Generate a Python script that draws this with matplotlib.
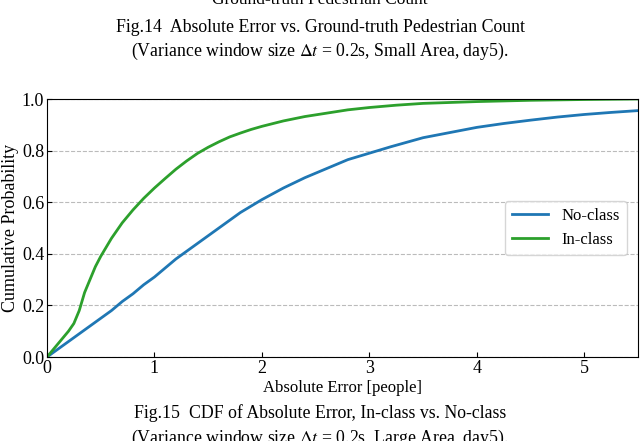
import matplotlib
matplotlib.use("Agg")
import matplotlib.pyplot as plt

plt.rcParams["font.family"] = ["Liberation Serif", "DejaVu Serif"]
plt.rcParams["mathtext.fontset"] = "stix"

# --- dados ---
x_noclass = [0, 0.1, 0.2, 0.3, 0.4, 0.5, 0.6, 0.7, 0.8, 0.9, 1.0, 1.2, 1.4, 1.6, 1.8,
             2.0, 2.2, 2.4, 2.6, 2.8, 3.0, 3.2, 3.5, 3.75, 4.0, 4.25, 4.5, 4.75, 5.0, 5.25, 5.5]
y_noclass = [0, 0.03, 0.06, 0.09, 0.12, 0.15, 0.18, 0.215, 0.245, 0.28, 0.31, 0.38, 0.44, 0.50, 0.56,
             0.61, 0.655, 0.695, 0.73, 0.765, 0.79, 0.815, 0.85, 0.87, 0.89, 0.905, 0.918, 0.93, 0.94, 0.948, 0.955]

x_inclass = [0, 0.1, 0.2, 0.25, 0.3, 0.35, 0.4, 0.45, 0.5, 0.6, 0.7, 0.8, 0.9, 1.0, 1.1, 1.2, 1.3, 1.4,
             1.5, 1.6, 1.7, 1.8, 1.9, 2.0, 2.2, 2.4, 2.6, 2.8, 3.0, 3.25, 3.5, 4.0, 4.5, 5.0, 5.5]
y_inclass = [0, 0.05, 0.10, 0.13, 0.18, 0.25, 0.30, 0.35, 0.39, 0.46, 0.52, 0.57, 0.615, 0.655, 0.692,
             0.728, 0.76, 0.789, 0.813, 0.834, 0.853, 0.868, 0.882, 0.894, 0.915, 0.932, 0.945, 0.958,
             0.967, 0.976, 0.983, 0.99, 0.995, 0.998, 1.0]

x_ticks = [0, 1, 2, 3, 4, 5]
y_ticks = [0.0, 0.2, 0.4, 0.6, 0.8, 1.0]

fig = plt.figure(figsize=(6.4, 4.41), dpi=100)
ax = fig.add_axes([47 / 640, 84 / 441, 591 / 640, 258 / 441])

ax.plot(x_noclass, y_noclass, color="#1f77b4", lw=2, label="No-class")
ax.plot(x_inclass, y_inclass, color="#2ca02c", lw=2, label="In-class")

ax.set_xlim(0, 5.5)
ax.set_ylim(0, 1.0)
ax.set_xticks(x_ticks)
ax.set_yticks(y_ticks)
ax.set_yticklabels([f"{v:.1f}" for v in y_ticks])
ax.tick_params(direction="in", labelsize=13, pad=2)
ax.yaxis.grid(True, linestyle="--", color="#bbbbbb", lw=0.8)
ax.set_axisbelow(True)
ax.set_xlabel("Absolute Error [people]", fontsize=12, labelpad=2)
ax.set_ylabel("Cumulative Probability", fontsize=13, labelpad=2)
ax.legend(loc="center right", fontsize=12, bbox_to_anchor=(0.995, 0.5), handlelength=2.2)

# legendas da página
fig.text(0.5, 1.0, "Ground-truth Pedestrian Count", ha="center", va="center", fontsize=12.5)
fig.text(0.5, 1 - 27 / 441, "Fig.14  Absolute Error vs. Ground-truth Pedestrian Count",
         ha="center", va="center", fontsize=12.8)
fig.text(0.5, 1 - 51 / 441, r"(Variance window size $\Delta t$ = 0.2s, Small Area, day5).",
         ha="center", va="center", fontsize=12.8)
fig.text(0.5, 1 - 413 / 441, "Fig.15  CDF of Absolute Error, In-class vs. No-class",
         ha="center", va="center", fontsize=12.8)
fig.text(0.5, 1 - 438 / 441, r"(Variance window size $\Delta t$ = 0.2s, Large Area, day5).",
         ha="center", va="center", fontsize=12.8)

fig.savefig("out.png", dpi=100)
